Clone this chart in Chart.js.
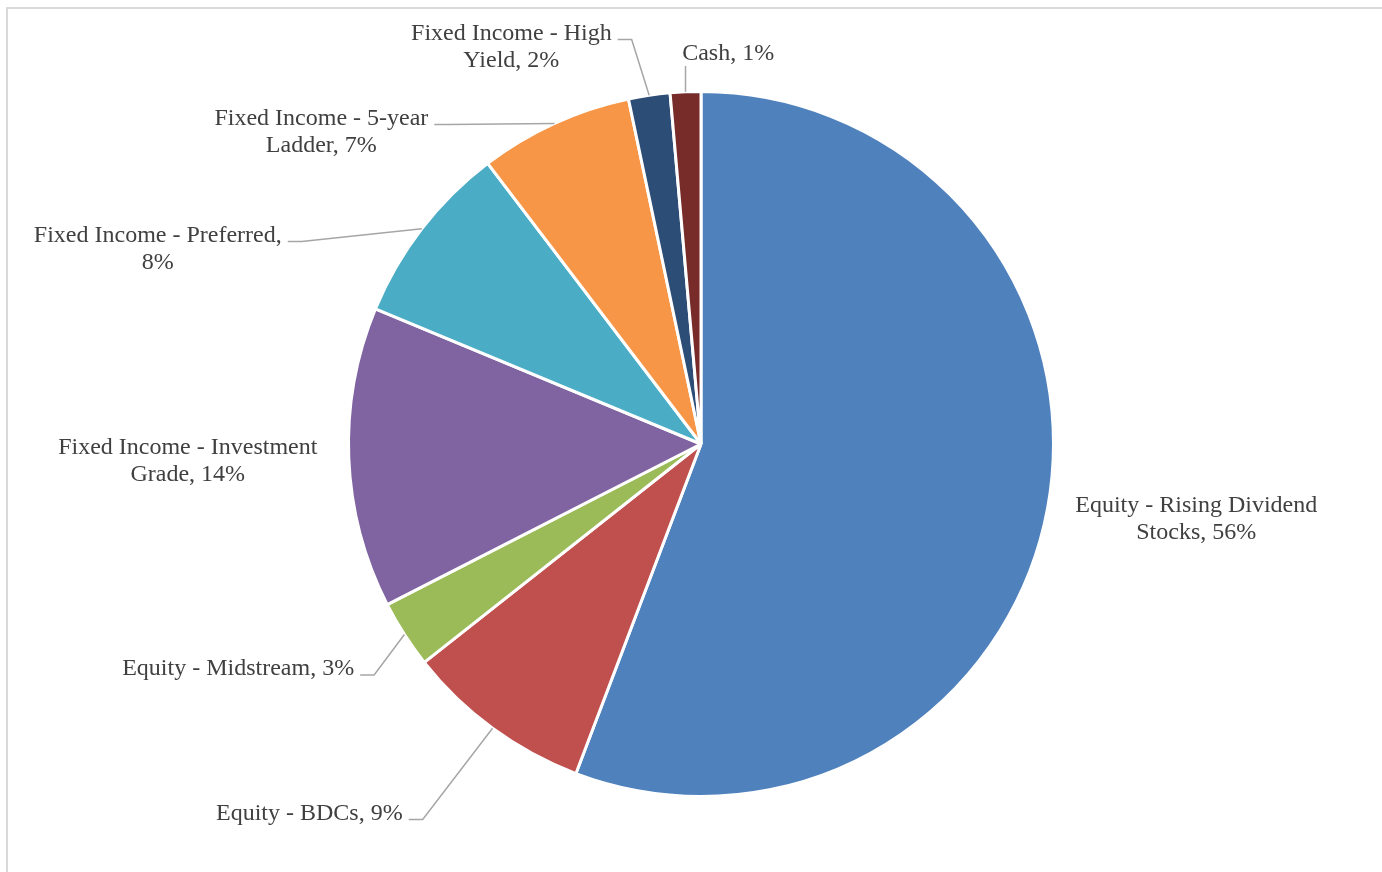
<!DOCTYPE html>
<html>
<head>
<meta charset="utf-8">
<script src="https://cdn.jsdelivr.net/npm/chart.js@4"></script>
<style>
  html, body { margin: 0; padding: 0; background: #fff; }
  #chart { display: block; }
</style>
</head>
<body>
<canvas id="chart" width="1382" height="872"></canvas>
<script>
const categories = [
    "Equity - Rising Dividend Stocks",
    "Equity - BDCs",
    "Equity - Midstream",
    "Fixed Income - Investment Grade",
    "Fixed Income - Preferred",
    "Fixed Income - 5-year Ladder",
    "Fixed Income - High Yield",
    "Cash"
];
const shares = [55.8, 8.6, 3.1, 13.8, 8.4, 7.05, 1.9, 1.4];
const colors = ["#4F81BD", "#C0504D", "#9BBB59", "#8064A2", "#4BACC6", "#F79646", "#2C4D75", "#772C2A"];

// label placement, in units of the pie radius from its centre
const labelDX = [1.405, -1.111, -1.313, -1.456, -1.541, -1.077, -0.538, 0.077];
const labelDY = [0.214, 1.048, 0.638, 0.05, -0.553, -0.885, -1.126, -1.108];
const labelWrap = [250, 300, 300, 265, 260, 230, 210, 200];
const labelLeader = ["none", "side", "side", "none", "side", "side", "side", "below"];

const FONT = '24px "Liberation Serif", "Times New Roman", serif';
const LINE_H = 27;

function wrapText(ctx, text, maxW) {
    const words = text.split(" ");
    const lines = [];
    let cur = "";
    words.forEach(w => {
        const test = cur ? cur + " " + w : w;
        if (cur && ctx.measureText(test).width > maxW) {
            lines.push(cur);
            cur = w;
        } else {
            cur = test;
        }
    });
    if (cur) lines.push(cur);
    return lines;
}

const sliceLabels = {
    id: "sliceLabels",
    beforeDraw(chart) {
        const ctx = chart.ctx;
        ctx.save();
        ctx.strokeStyle = "#d9d9d9";
        ctx.lineWidth = 2;
        ctx.strokeRect(7, 8, chart.width + 20, chart.height + 20);
        ctx.restore();
    },
    afterDatasetsDraw(chart) {
        const ctx = chart.ctx;
        const meta = chart.getDatasetMeta(0);
        ctx.save();
        ctx.font = FONT;
        ctx.fillStyle = "#404040";
        ctx.textAlign = "center";
        ctx.textBaseline = "middle";
        ctx.strokeStyle = "#a6a6a6";
        ctx.lineWidth = 1.5;
        meta.data.forEach((arc, i) => {
            const p = arc.getProps(["x", "y", "startAngle", "endAngle", "outerRadius"], true);
            const mid = (p.startAngle + p.endAngle) / 2;
            const text = categories[i] + ", " + Math.round(shares[i]) + "%";
            const lines = wrapText(ctx, text, labelWrap[i]);
            const cx = p.x + labelDX[i] * p.outerRadius;
            const cy = p.y + labelDY[i] * p.outerRadius;
            const top = cy - LINE_H * lines.length / 2;
            lines.forEach((ln, k) => ctx.fillText(ln, cx, top + LINE_H * (k + 0.5)));

            const sx = p.x + Math.cos(mid) * p.outerRadius;
            const sy = p.y + Math.sin(mid) * p.outerRadius;
            if (labelLeader[i] === "side") {
                const w = ctx.measureText(lines[0]).width;
                const ex = cx + w / 2 + 6;
                const ey = top + LINE_H * 0.5 + 6;
                ctx.beginPath();
                ctx.moveTo(sx, sy);
                ctx.lineTo(ex + 14, ey);
                ctx.lineTo(ex, ey);
                ctx.stroke();
            } else if (labelLeader[i] === "below") {
                ctx.beginPath();
                ctx.moveTo(sx, sy);
                ctx.lineTo(sx, top + LINE_H * lines.length - 1);
                ctx.stroke();
            }
        });
        ctx.restore();
    }
};

new Chart(document.getElementById("chart"), {
    type: "pie",
    data: {
        labels: categories,
        datasets: [{
            data: shares,
            backgroundColor: colors,
            borderColor: "#ffffff",
            borderWidth: 3
        }]
    },
    options: {
        responsive: false,
        animation: false,
        layout: {
            padding: { top: 90, bottom: 74, left: 347, right: 327 }
        },
        plugins: {
            legend: { display: false },
            tooltip: { enabled: false }
        }
    },
    plugins: [sliceLabels]
});
</script>
</body>
</html>
